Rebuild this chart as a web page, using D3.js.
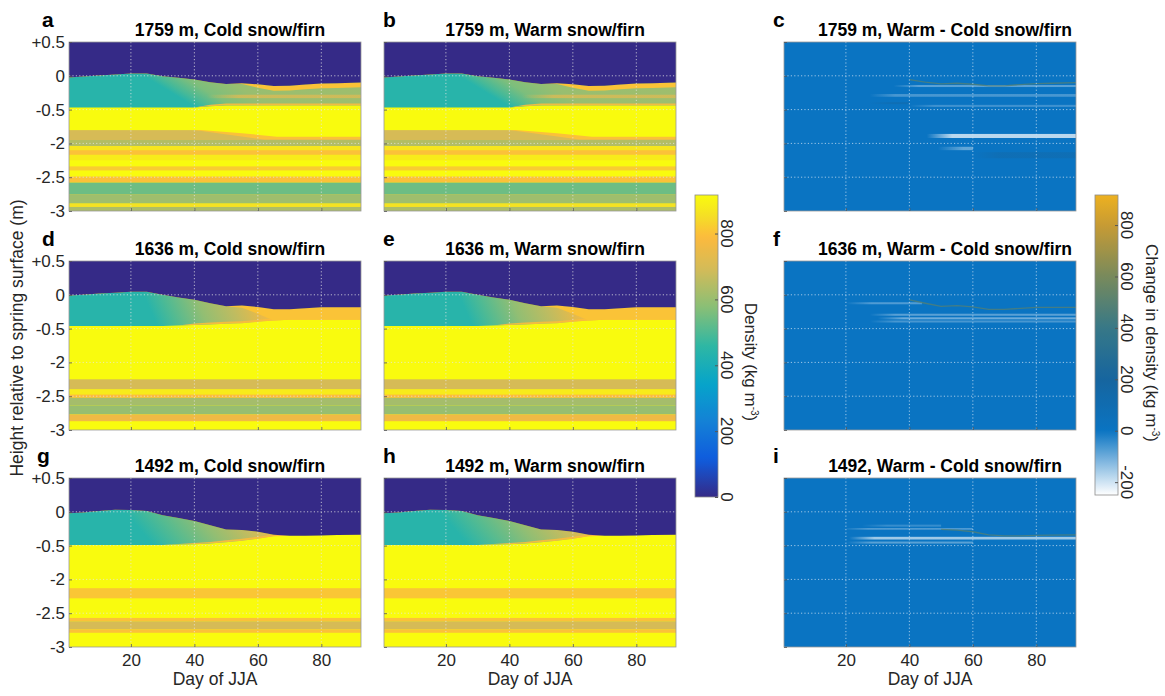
<!DOCTYPE html>
<html><head><meta charset="utf-8">
<script src="https://cdn.jsdelivr.net/npm/d3@7"></script>
<style>
body{margin:0;background:#fff;}
text{font-family:"Liberation Sans",Arial,Helvetica,sans-serif;}
</style>
</head><body>
<svg id="chart" width="1165" height="696"></svg>
<script>
// ---------- data ----------
const dayDomain = [0.5, 92.5];
const xTickVals = [20, 40, 60, 80];
const yTickVals = [0.5, 0, -0.5, -2, -2.5, -3];
const yTickLabels = ["+0.5", "0", "-0.5", "-2", "-2.5", "-3"];
const densityTicks = [0, 200, 400, 600, 800];
const diffTicks = [-200, 0, 200, 400, 600, 800];
const densityMax = 917;
const diffMin = -250;

const dayPts = [0.5,5,10,15,20,25,30,35,40,45,50,55,60,65,70,75,80,85,92.5];

const surf1759   = [-0.025,-0.01,0.005,0.02,0.035,0.035,-0.005,-0.03,-0.055,-0.095,-0.12,-0.11,-0.125,-0.15,-0.148,-0.13,-0.115,-0.11,-0.10];
const base1759   = [-0.47,-0.47,-0.47,-0.47,-0.47,-0.47,-0.47,-0.47,-0.47,-0.45,-0.44,-0.44,-0.44,-0.44,-0.44,-0.44,-0.44,-0.44,-0.44];
const frozen1759 = [0,0,0,0,0,0,0,0,0,0,0,0.01,0.05,0.07,0.07,0.07,0.07,0.07,0.07];
const crust1759  = [0,0,0,0,0,0,0,0,0,0.02,0.03,0.03,0.03,0.03,0.03,0.03,0.03,0.03,0.03];
const snowStops1759 = [[24,440],[28,490],[36,560],[48,600],[92.5,610]];
const snowLag1759 = 16;
const snowLayers1759 = [[44,92.5,-0.28,-0.33,700]];

const surf1636   = [-0.01,0,0.02,0.03,0.045,0.045,0,-0.04,-0.075,-0.125,-0.17,-0.16,-0.18,-0.215,-0.215,-0.2,-0.185,-0.185,-0.185];
const base1636   = [-0.46,-0.46,-0.46,-0.46,-0.46,-0.46,-0.46,-0.455,-0.445,-0.44,-0.43,-0.42,-0.40,-0.38,-0.37,-0.37,-0.37,-0.37,-0.37];
const frozen1636 = [0,0,0,0,0,0,0,0,0,0,0,0.03,0.1,0.2,0.2,0.2,0.2,0.2,0.2];
const crust1636  = [0,0,0,0,0,0,0,0,0.02,0.03,0.03,0.03,0.03,0.03,0,0,0,0,0];
const snowStops1636 = [[24,440],[30,500],[40,590],[50,660],[58,740],[66,800]];
const snowLag1636 = 4;
const snowLayers1636 = [];

const surf1492   = [-0.02,-0.01,0.01,0.03,0.025,0.01,-0.05,-0.09,-0.135,-0.2,-0.26,-0.27,-0.295,-0.34,-0.355,-0.355,-0.35,-0.345,-0.34];
const base1492   = [-0.49,-0.49,-0.49,-0.49,-0.49,-0.49,-0.49,-0.485,-0.48,-0.47,-0.45,-0.43,-0.40,-0.36,-0.355,-0.355,-0.35,-0.345,-0.34];
const frozen1492 = [0,0,0,0,0,0,0,0,0,0,0,0,0,0,0,0,0,0,0];
const crust1492  = [0,0,0,0,0,0,0,0.01,0.02,0.025,0.03,0.03,0.03,0.03,0,0,0,0,0];
const snowStops1492 = [[18,440],[28,510],[40,590],[52,670],[62,770]];
const snowLag1492 = 8;
const snowLayers1492 = [];

// ice bands: [top, bottom, density, fromDay, toDay]
const bands1759 = [
  [-1.41,-1.85,700,0.5,92.5],
  [-1.85,-2.04,640,0.5,92.5],[-2.04,-2.10,870,0.5,92.5],[-2.10,-2.17,800,0.5,92.5],
  [-2.17,-2.25,880,0.5,92.5],[-2.34,-2.40,820,0.5,92.5],[-2.49,-2.58,800,0.5,92.5],
  [-2.58,-2.75,540,0.5,92.5],[-2.75,-2.89,610,0.5,92.5],[-2.89,-2.94,860,0.5,92.5],
  [-2.94,-3.0,630,0.5,92.5]
];
// ice polygons: {pts:[[day,height],...], density}
const polys1759 = [
  {pts:[[40,-1.41],[92.5,-1.41],[92.5,-1.83],[62,-1.83]], v:800},
  {pts:[[42,-1.41],[55,-1.55],[66,-1.70],[92.5,-1.71],[92.5,-1.41]], v:917}
];
const bands1636 = [
  [-2.25,-2.40,700,0.5,92.5],[-2.40,-2.475,880,0.5,92.5],[-2.475,-2.524,790,0.5,92.5],
  [-2.524,-2.64,620,0.5,92.5],[-2.64,-2.77,600,0.5,92.5],[-2.77,-2.87,760,0.5,92.5]
];
const polys1636 = [];
const bands1492 = [
  [-2.13,-2.28,810,0.5,92.5],[-2.57,-2.62,800,0.5,92.5],[-2.62,-2.74,700,0.5,92.5],[-2.74,-2.79,800,0.5,92.5]
];
const polys1492 = [];

// warm - cold streaks: [fromDay, toDay, top, bottom, change]
const diff1759 = [
  [35,92.5,-0.136,-0.166,-90],[27.5,92.5,-0.27,-0.31,-70],[27,40,-0.39,-0.42,90],
  [40,92.5,-0.43,-0.46,-60],[45.5,92.5,-1.58,-1.76,-200],[49,60,-2.05,-2.10,-100],[60,92.5,-2.13,-2.22,80]
];
const diff1636 = [
  [20,44,-0.11,-0.14,-80],[27.5,92.5,-0.28,-0.31,-90],[30,92.5,-0.333,-0.363,-110],[27.5,92.5,-0.38,-0.41,-70]
];
const diff1492 = [
  [25,50,-0.19,-0.22,-50],[19,60,-0.24,-0.265,-80],[21,92.5,-0.37,-0.41,-170],[20,60,-0.44,-0.47,-90]
];
const diffLineFrom1759 = 40, diffLineFrom1636 = 40, diffLineFrom1492 = 48;

const titlesCold = ["1759 m, Cold snow/firn","1636 m, Cold snow/firn","1492 m, Cold snow/firn"];
const titlesWarm = ["1759 m, Warm snow/firn","1636 m, Warm snow/firn","1492 m, Warm snow/firn"];
const titlesDiff = ["1759 m, Warm - Cold snow/firn","1636 m, Warm - Cold snow/firn","1492, Warm - Cold snow/firn"];
const letters = [["a","b","c"],["d","e","f"],["g","h","i"]];

// ---------- colour scales ----------
const parulaPos  = [0,0.125,0.25,0.375,0.5,0.625,0.75,0.86,0.93,1];
const parulaCols = ["#352a87","#0f5cdd","#1481d6","#06a4ca","#2eb7a4","#87bf77","#d1bb59","#fcba3d","#f5df25","#f9fb0e"];
const colorD = d3.scaleLinear().domain(parulaPos.map(p=>p*densityMax)).range(parulaCols).clamp(true);
const diffDom = [diffMin, 0, 200, 400, 600, 800, densityMax];
const diffCols = ["#ffffff","#0a74c2","#16659f","#377887","#788a5c","#c79b34","#edb120"];
const colorDiff = d3.scaleLinear().domain(diffDom).range(diffCols).clamp(true);

// ---------- layout ----------
const FS = 17;
const svg = d3.select("#chart");
const defs = svg.append("defs");
const W = 292, H = 169;
const rowTops = [42, 261, 478];
const colLefts = [69, 384, 784];
const sites = [
  {surf:surf1759, base:base1759, frozen:frozen1759, crust:crust1759, stops:snowStops1759, lag:snowLag1759, layers:snowLayers1759, bands:bands1759, polys:polys1759, diff:diff1759, lineFrom:diffLineFrom1759},
  {surf:surf1636, base:base1636, frozen:frozen1636, crust:crust1636, stops:snowStops1636, lag:snowLag1636, layers:snowLayers1636, bands:bands1636, polys:polys1636, diff:diff1636, lineFrom:diffLineFrom1636},
  {surf:surf1492, base:base1492, frozen:frozen1492, crust:crust1492, stops:snowStops1492, lag:snowLag1492, layers:snowLayers1492, bands:bands1492, polys:polys1492, diff:diff1492, lineFrom:diffLineFrom1492}
];

let uid = 0;
function scales(col,row){
  const x = d3.scaleLinear().domain(dayDomain).range([colLefts[col], colLefts[col]+W]);
  const y = d3.scaleLinear().domain(yTickVals).range(yTickVals.map((d,i)=>rowTops[row]+i*H/5));
  return {x,y};
}
function clipFor(x,y){
  const id = "clip"+(uid++);
  defs.append("clipPath").attr("id",id).append("rect")
    .attr("x",x.range()[0]).attr("y",y(yTickVals[0]))
    .attr("width",x.range()[1]-x.range()[0]).attr("height",y(yTickVals[5])-y(yTickVals[0]));
  return id;
}
function fadeGrad(color, fade, op){
  const gid = "fg"+(uid++);
  const gr = defs.append("linearGradient").attr("id",gid);
  gr.append("stop").attr("offset",0).attr("stop-color",color).attr("stop-opacity",0);
  gr.append("stop").attr("offset",fade).attr("stop-color",color).attr("stop-opacity",op);
  gr.append("stop").attr("offset",1).attr("stop-color",color).attr("stop-opacity",op);
  return "url(#"+gid+")";
}

function drawDensity(col,row,site){
  const {x,y} = scales(col,row);
  const g = svg.append("g").attr("clip-path","url(#"+clipFor(x,y)+")");
  const pts = dayPts.map((d,i)=>({day:d, surf:site.surf[i], base:site.base[i], frozen:site.frozen[i], crust:site.crust[i]}));
  // ice background
  g.append("rect").attr("x",x(dayDomain[0])).attr("y",y(0.5)).attr("width",x(dayDomain[1])-x(dayDomain[0]))
    .attr("height",y(-3)-y(0.5)).attr("fill",colorD(densityMax));
  // bands
  g.selectAll("rect.band").data(site.bands).enter().append("rect").attr("class","band")
    .attr("x",d=>x(d[3])).attr("width",d=>x(d[4])-x(d[3]))
    .attr("y",d=>y(d[0])).attr("height",d=>y(d[1])-y(d[0]))
    .attr("fill",d=>colorD(d[2]));
  const poly = d3.line().x(p=>x(p[0])).y(p=>y(p[1]));
  site.polys.forEach(p=>g.append("path").attr("d",poly(p.pts)+"Z").attr("fill",colorD(p.v)));
  // snow slanted gradient
  const gid = "snow"+(uid++);
  const yT = y(0), yB = y(d3.mean(site.base));
  const ppd = x(1)-x(0);
  const gx = yB - yT, gy = -(site.lag*ppd);
  const d0 = site.stops[0][0], d1 = site.stops[site.stops.length-1][0];
  const c = (x(d1)-x(d0))*gx/(gx*gx+gy*gy);
  const grad = defs.append("linearGradient").attr("id",gid).attr("gradientUnits","userSpaceOnUse")
    .attr("x1",x(d0)).attr("y1",yT).attr("x2",x(d0)+c*gx).attr("y2",yT+c*gy);
  site.stops.forEach(s=>grad.append("stop").attr("offset",(s[0]-d0)/(d1-d0)).attr("stop-color",colorD(s[1])));
  const snowArea = d3.area().x(d=>x(d.day)).y0(d=>y(d.base)).y1(d=>y(d.surf));
  g.append("path").datum(pts).attr("d",snowArea).attr("fill","url(#"+gid+")");
  // snow internal layers (clipped to snow)
  const sid = "sclip"+(uid++);
  defs.append("clipPath").attr("id",sid).append("path").attr("d",snowArea(pts));
  const sl = g.append("g").attr("clip-path","url(#"+sid+")");
  site.layers.forEach(d=>{
    sl.append("rect").attr("x",x(d[0])).attr("width",x(d[1])-x(d[0]))
      .attr("y",y(d[2])).attr("height",y(d[3])-y(d[2]))
      .attr("fill",fadeGrad(colorD(d[4]), Math.min(0.9,10/(d[1]-d[0])), 0.85));
  });
  // crust at snow base
  sl.append("path").datum(pts)
    .attr("d",d3.area().x(d=>x(d.day)).y0(d=>y(d.base)).y1(d=>y(Math.min(d.base+d.crust,d.surf))))
    .attr("fill",colorD(790)).attr("opacity",0.9);
  // refrozen layer under surface
  g.append("path").datum(pts)
    .attr("d",d3.area().x(d=>x(d.day)).y0(d=>y(Math.max(d.surf-d.frozen,d.base))).y1(d=>y(d.surf)))
    .attr("fill",colorD(805));
  // air
  g.append("path").datum(pts)
    .attr("d",d3.area().x(d=>x(d.day)).y0(y(0.5)).y1(d=>y(d.surf)))
    .attr("fill",colorD(0));
  decorate(col,row,x,y,"#e6e6e6");
}

function drawDiff(row,site){
  const col = 2;
  const {x,y} = scales(col,row);
  const g = svg.append("g").attr("clip-path","url(#"+clipFor(x,y)+")");
  g.append("rect").attr("x",x(dayDomain[0])).attr("y",y(0.5)).attr("width",x(dayDomain[1])-x(dayDomain[0]))
    .attr("height",y(-3)-y(0.5)).attr("fill",colorDiff(0));
  site.diff.forEach(d=>{
    g.append("rect").attr("x",x(d[0])).attr("width",x(d[1])-x(d[0]))
      .attr("y",y(d[2])).attr("height",y(d[3])-y(d[2]))
      .attr("fill",fadeGrad(colorDiff(d[4]), Math.min(0.9, 8/(d[1]-d[0])), 0.9));
  });
  const pts = dayPts.map((d,i)=>({day:d, surf:site.surf[i]})).filter(p=>p.day>=site.lineFrom);
  g.append("path").datum(pts).attr("d",d3.line().x(d=>x(d.day)).y(d=>y(d.surf)))
    .attr("fill","none").attr("stroke",colorDiff(480)).attr("stroke-width",1.3).attr("opacity",0.8);
  decorate(col,row,x,y,"#cfe3f5");
}

function decorate(col,row,x,y,gridCol){
  const g = svg.append("g");
  g.selectAll("line.vg").data(xTickVals).enter().append("line")
    .attr("x1",d=>x(d)).attr("x2",d=>x(d)).attr("y1",y(0.5)).attr("y2",y(-3))
    .attr("stroke",gridCol).attr("stroke-width",1).attr("stroke-dasharray","1.2,2.2").attr("opacity",0.75);
  g.selectAll("line.hg").data(yTickVals.slice(1,5)).enter().append("line")
    .attr("y1",d=>y(d)).attr("y2",d=>y(d)).attr("x1",x(dayDomain[0])).attr("x2",x(dayDomain[1]))
    .attr("stroke",gridCol).attr("stroke-width",1).attr("stroke-dasharray","1.2,2.2").attr("opacity",0.75);
  g.append("rect").attr("x",x(dayDomain[0])).attr("y",y(0.5)).attr("width",x(dayDomain[1])-x(dayDomain[0]))
    .attr("height",y(-3)-y(0.5)).attr("fill","none").attr("stroke","#9a9a9a").attr("stroke-width",0.8);
  const ax = svg.append("g").attr("transform","translate(0,"+y(-3)+")")
    .call(d3.axisBottom(x).tickValues(xTickVals).tickSize(-3).tickPadding(7)
      .tickFormat(row===2 ? d3.format("d") : ()=>""));
  const ay = svg.append("g").attr("transform","translate("+x(dayDomain[0])+",0)")
    .call(d3.axisLeft(y).tickValues(yTickVals).tickSize(-3).tickPadding(4)
      .tickFormat(col===0 ? (d,i)=>yTickLabels[i] : ()=>""));
  [ax,ay].forEach(a=>{
    a.select(".domain").remove();
    a.selectAll(".tick line").attr("stroke","#555").attr("stroke-width",0.8);
    a.selectAll("text").attr("font-size",FS).attr("fill","#262626")
      .attr("font-family","'Liberation Sans',Arial,sans-serif");
  });
  if(row===2){
    svg.append("text").attr("x",(x.range()[0]+x.range()[1])/2).attr("y",685)
      .attr("text-anchor","middle").attr("font-size",FS+0.5).attr("fill","#262626").text("Day of JJA");
  }
  const titles = col===0?titlesCold:(col===1?titlesWarm:titlesDiff);
  svg.append("text").attr("x",(x.range()[0]+x.range()[1])/2+15).attr("y",y(0.5)-6)
    .attr("text-anchor","middle").attr("font-size",17.5).attr("font-weight","bold").attr("fill","#000")
    .text(titles[row]);
  svg.append("text").attr("x",col===0?(row===2?37:42):(col===1?383:773)).attr("y",y(0.5)-15)
    .attr("font-size",21).attr("font-weight","bold").attr("fill","#000").text(letters[row][col]);
}

sites.forEach((s,row)=>{
  drawDensity(0,row,s);
  drawDensity(1,row,s);
  drawDiff(row,s);
});

// y label
svg.append("text").attr("transform","translate(23,338) rotate(-90)").attr("text-anchor","middle")
  .attr("font-size",17.5).attr("fill","#262626").text("Height relative to spring surface (m)");

// ---------- colorbars ----------
function colorbar(x0, y0, y1, dom, scaleCol, ticks, labelX, labelY, labelTxt){
  const cy = d3.scaleLinear().domain(dom).range([y1,y0]);
  const gid = "cb"+(uid++);
  const gr = defs.append("linearGradient").attr("id",gid).attr("x1",0).attr("y1",1).attr("x2",0).attr("y2",0);
  const n = 60;
  d3.range(n+1).forEach(i=>{
    const v = dom[0]+(dom[1]-dom[0])*i/n;
    gr.append("stop").attr("offset",i/n).attr("stop-color",scaleCol(v));
  });
  svg.append("rect").attr("x",x0).attr("y",y0).attr("width",23).attr("height",y1-y0)
    .attr("fill","url(#"+gid+")").attr("stroke","#8c8c8c").attr("stroke-width",0.8);
  const a = svg.append("g").attr("transform","translate("+(x0+23)+",0)")
    .call(d3.axisRight(cy).tickValues(ticks).tickSize(-3).tickFormat(""));
  a.select(".domain").remove();
  a.selectAll(".tick line").attr("stroke","#555");
  svg.selectAll(null).data(ticks).enter().append("text")
    .attr("transform",d=>"translate("+(x0+26)+","+cy(d)+") rotate(90)")
    .attr("text-anchor","middle").attr("font-size",FS).attr("fill","#262626").text(d=>d);
  const t = svg.append("text").attr("transform","translate("+labelX+","+labelY+") rotate(90)")
    .attr("text-anchor","middle").attr("font-size",FS).attr("fill","#262626");
  t.append("tspan").text(labelTxt+" (kg m");
  t.append("tspan").attr("dy",-6).attr("font-size",10).text("-3");
  t.append("tspan").attr("dy",6).text(")");
}
colorbar(695,195,497,[0,densityMax],colorD,densityTicks,745,362,"Density");
colorbar(1095,195,495,[diffMin,densityMax],colorDiff,diffTicks,1146,343,"Change in density");
</script>
</body></html>
